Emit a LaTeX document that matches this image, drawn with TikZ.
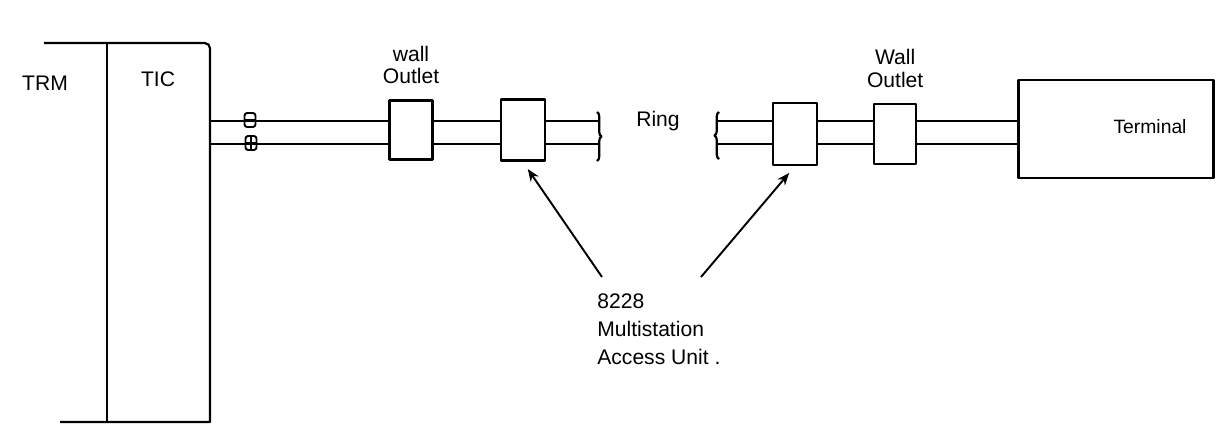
\documentclass[tikz,border=0pt]{standalone}
\usepackage{fontspec}
\setmainfont{Liberation Sans}
\usetikzlibrary{positioning,calc,decorations.pathreplacing,arrows.meta}

\tikzset{
  cable/.style={line width=1.25pt},
  unitbox/.style={draw,line width=1.25pt,inner sep=0pt},
  plug/.style={draw,line width=1.1pt,rounded corners=1.5pt,inner sep=0pt,
    minimum width=0.22cm,minimum height=0.28cm},
  ringend/.style={line width=1.25pt,decorate,decoration={brace,amplitude=0.09cm}},
  label/.style={font=\fontsize{12}{13}\selectfont,align=center,inner sep=0pt}
}

\begin{document}
\begin{tikzpicture}[x=0.02cm,y=-0.02cm,line join=round,>={Stealth[length=7pt,width=5.5pt]}]
  \useasboundingbox (0,0) rectangle (1216,423);

  % TRM / TIC frame
  \draw[cable] (44,43) [rounded corners=3pt] -- (210,43) -- (210,100)
    [sharp corners] -- (210,422) -- (60,422);
  \draw[cable] (107,43) -- (107,422);
  \node[label] (trm) at (45,83) {TRM};
  \node[label] (tic) at (158,79) {TIC};
  \coordinate (tic1) at (210,121);
  \coordinate (tic2) at (210,144);

  \node[unitbox,minimum width=0.86cm,minimum height=1.18cm] (wo1) at (411,130) {};
  \node[unitbox,minimum width=0.88cm,minimum height=1.22cm,right=1.32cm of wo1] (mau1) {};
  \node[unitbox,minimum width=0.88cm,minimum height=1.24cm] (mau2) at (795,134) {};
  \node[unitbox,minimum width=0.84cm,minimum height=1.2cm,right=1.1cm of mau2] (wo2) {};
  \node[unitbox,minimum width=3.9cm,minimum height=1.96cm] (term) at (1116,129) {};

  \node[label,above=0.3cm of wo1] (wo1txt) {wall\\Outlet};
  \node[label,above=0.3cm of wo2] (wo2txt) {Wall\\Outlet};
  \node[label,font=\fontsize{11}{13}\selectfont] (termtxt) at (1150,127) {Terminal};

  \coordinate (ringL) at (600,135);
  \coordinate (ringR) at (716,135);
  \node[label] (ring) at (658,121) {Ring};

  % the cable pairs
  \foreach \c in {tic1,tic2}
    \draw[cable] (\c) -- (\c -| wo1.west) (\c -| wo1.east) -- (\c -| mau1.west)
                 (\c -| mau1.east) -- (\c -| ringL);
  \foreach \c in {tic1,tic2}
    \draw[cable] (\c -| ringR) -- (\c -| mau2.west) (\c -| mau2.east) -- (\c -| wo2.west)
                 (\c -| wo2.east) -- (\c -| term.west);

  \draw[ringend] ($(ringL)+(-3,-23)$) -- ($(ringL)+(-3,26)$);
  \draw[ringend] ($(ringR)+(3,24)$) -- ($(ringR)+(3,-23)$);

  % connectors on the lobe
  \node[plug,path picture={\draw[line width=0.9pt]
      (path picture bounding box.west) -- (path picture bounding box.east);}]
      (plug1) at (250,120) {};
  \node[plug,path picture={\draw[line width=0.9pt]
      (path picture bounding box.west) -- (path picture bounding box.east)
      (path picture bounding box.north) -- (path picture bounding box.south);}]
      (plug2) at (251,143) {};

  \node[label,align=left,font=\fontsize{12}{16}\selectfont,anchor=north west]
      (mau) at (597,293) {8228\\Multistation\\Access Unit .};
  \coordinate (tailL) at ($(mau.north west)+(5,-16)$);
  \coordinate (tailR) at ($(mau.north west)+(104,-16)$);
  \draw[->,line width=1.1pt,shorten >=0.18cm] (tailL) -- (mau1.south);
  \draw[->,line width=1.1pt,shorten >=0.18cm] (tailR) -- (mau2.south);
\end{tikzpicture}
\end{document}
